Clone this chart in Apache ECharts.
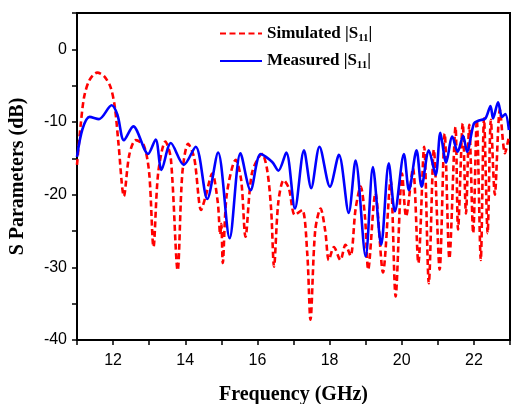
<!DOCTYPE html>
<html>
<head>
<meta charset="utf-8">
<script src="https://cdn.jsdelivr.net/npm/echarts@6/dist/echarts.min.js"></script>
<style>html,body{margin:0;padding:0;background:#fff}#c{width:511px;height:404px}</style>
</head>
<body>
<div id="c"></div>
<script>
// Simulated |S11| (frequency in GHz, value in dB)
var simFreq = [11.0,11.1,11.2,11.35,11.56,11.75,11.93,12.05,12.15,12.3,12.45,12.63,12.85,13.0,13.12,13.25,13.45,13.6,13.79,13.92,14.08,14.25,14.44,14.55,14.75,14.9,14.97,15.0,15.04,15.15,15.4,15.55,15.67,15.85,16.13,16.27,16.38,16.46,16.58,16.73,16.87,17.04,17.24,17.38,17.47,17.6,17.75,17.88,17.98,18.12,18.3,18.44,18.58,18.72,18.86,18.98,19.07,19.27,19.48,19.69,19.83,20.01,20.12,20.31,20.46,20.62,20.75,20.89,21.05,21.19,21.32,21.49,21.56,21.69,21.78,21.87,21.98,22.08,22.19,22.28,22.38,22.47,22.58,22.72,22.86,22.97];
var simDb   = [-15.9,-10.5,-6.5,-4.2,-3.2,-3.7,-5.2,-8.0,-13.0,-20.2,-14.5,-12.5,-13.2,-17.0,-27.2,-17.0,-12.7,-15.0,-30.4,-17.0,-13.0,-15.0,-22.1,-20.5,-17.1,-21.0,-25.5,-24.0,-29.4,-20.0,-15.2,-18.0,-25.8,-17.0,-14.4,-16.6,-22.0,-29.9,-21.0,-18.0,-19.1,-22.8,-22.1,-28.0,-37.2,-25.0,-21.9,-25.0,-29.0,-27.2,-29.0,-26.9,-28.4,-22.0,-18.9,-23.0,-30.3,-19.8,-30.7,-18.0,-34.0,-17.1,-23.0,-16.4,-29.4,-13.4,-32.2,-13.8,-30.3,-11.6,-28.8,-10.7,-24.8,-10.2,-22.6,-10.4,-25.3,-9.7,-29.0,-9.5,-25.3,-9.7,-20.0,-8.3,-14.3,-12.0];
// Measured |S11|
var measFreq = [11.0,11.15,11.35,11.61,11.96,12.12,12.3,12.56,12.97,13.18,13.34,13.6,13.96,14.29,14.61,14.91,15.23,15.53,15.81,16.09,16.41,16.58,16.8,17.04,17.29,17.49,17.72,18.01,18.26,18.53,18.72,19.0,19.2,19.43,19.64,19.81,20.06,20.2,20.41,20.55,20.75,20.94,21.07,21.23,21.4,21.55,21.7,21.81,22.0,22.14,22.32,22.46,22.53,22.67,22.78,22.87,22.97];
var measDb   = [-14.8,-11.0,-9.3,-9.6,-7.7,-9.0,-12.5,-10.6,-14.4,-12.4,-16.6,-12.9,-15.9,-13.4,-20.6,-14.2,-26.0,-14.3,-19.4,-14.4,-15.5,-16.7,-14.2,-21.9,-13.9,-19.1,-13.4,-18.9,-14.5,-22.5,-15.3,-28.5,-16.2,-26.9,-15.7,-22.3,-14.4,-19.4,-13.9,-18.9,-13.9,-17.3,-11.5,-15.6,-12.0,-14.1,-11.9,-14.1,-10.2,-9.8,-9.5,-7.8,-9.5,-7.3,-9.3,-8.9,-11.1];
var xTicks = [12,14,16,18,20,22];
var yTicks = [0,-10,-20,-30,-40];

function pairs(a,b){return a.map(function(v,i){return [v,b[i]];});}

var chart = echarts.init(document.getElementById('c'), null, {renderer:'canvas'});
var serif = 'Liberation Serif';
var sans = 'Liberation Sans';
var richLegend = {
  n:{fontFamily:serif,fontWeight:'bold',fontSize:17,color:'#000',lineHeight:20,verticalAlign:'middle'},
  s:{fontFamily:serif,fontWeight:'bold',fontSize:11,color:'#000',lineHeight:11,verticalAlign:'bottom'}
};
chart.setOption({
  animation:false,
  backgroundColor:'#fff',
  grid:{left:77,right:1,top:13,bottom:64,outerBoundsMode:'none',containLabel:false,show:true,borderColor:'#000',borderWidth:2,backgroundColor:'transparent'},
  legend:{
    orient:'vertical',left:219,top:25,padding:0,itemWidth:42,itemHeight:14,itemGap:9,
    itemStyle:{opacity:0},
    data:['Simulated','Measured'],
    formatter:function(name){return '{n|'+name+' |S}{s|11}{n||}';},
    textStyle:{rich:richLegend}
  },
  xAxis:{
    type:'value',min:11,max:23,interval:1,
    name:'Frequency (GHz)',nameLocation:'middle',nameGap:45,
    nameTextStyle:{fontFamily:serif,fontWeight:'bold',fontSize:20,color:'#000'},
    axisLine:{show:true,onZero:false,lineStyle:{color:'#000',width:2}},
    axisTick:{show:true,length:5,lineStyle:{color:'#000',width:1.5}},
    axisLabel:{margin:13,fontFamily:sans,fontSize:16,color:'#000',
      formatter:function(v){return xTicks.indexOf(v)>=0?String(v):'';}},
    splitLine:{show:false}
  },
  yAxis:{
    type:'value',min:-40,max:5,interval:5,
    name:'S Parameters (dB)',nameLocation:'middle',nameGap:49,nameRotate:90,
    nameTextStyle:{fontFamily:serif,fontWeight:'bold',fontSize:20,color:'#000'},
    axisLine:{show:true,onZero:false,lineStyle:{color:'#000',width:2}},
    axisTick:{show:true,length:5,lineStyle:{color:'#000',width:1.5}},
    axisLabel:{margin:10,fontFamily:sans,fontSize:16,color:'#000',
      formatter:function(v){return yTicks.indexOf(v)>=0?String(v):'';}},
    splitLine:{show:false}
  },
  series:[
    {name:'Simulated',type:'line',data:pairs(simFreq,simDb),smooth:0.3,showSymbol:false,symbol:'none',
     lineStyle:{color:'#ff0000',width:2.6,type:[6,3.5]},itemStyle:{color:'#ff0000'},clip:true},
    {name:'Measured',type:'line',data:pairs(measFreq,measDb),smooth:0.3,showSymbol:false,symbol:'none',
     lineStyle:{color:'#0000ff',width:2.6,type:'solid'},itemStyle:{color:'#0000ff'},clip:true}
  ]
});
</script>
</body>
</html>
